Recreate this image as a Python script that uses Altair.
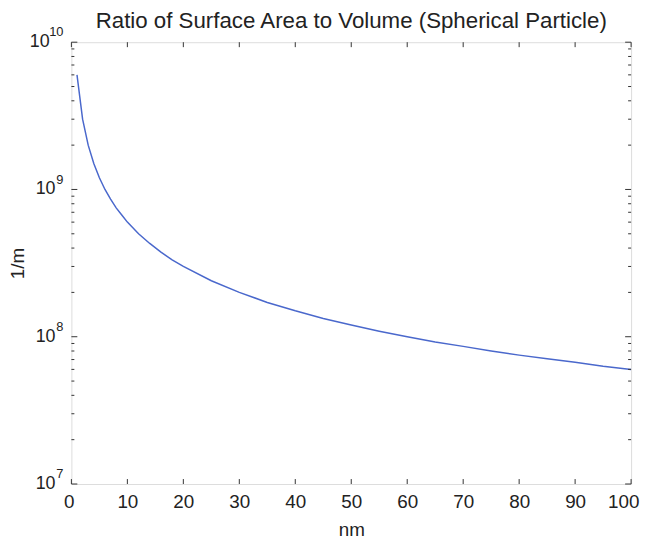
import altair as alt
import pandas as pd

# diameter in nm and ratio (1/m)
diam_nm = [1, 2, 3, 4, 5, 6, 7, 8, 9, 10, 12, 14, 16, 18, 20, 25, 30, 35, 40, 45,
           50, 55, 60, 65, 70, 75, 80, 85, 90, 95, 100]
ratio = [6.0e9, 3.0e9, 2.0e9, 1.5e9, 1.2e9, 1.0e9, 8.6e8, 7.5e8, 6.7e8, 6.0e8,
         5.0e8, 4.3e8, 3.75e8, 3.33e8, 3.0e8, 2.4e8, 2.0e8, 1.71e8, 1.5e8, 1.33e8,
         1.2e8, 1.09e8, 1.0e8, 9.2e7, 8.6e7, 8.0e7, 7.5e7, 7.1e7, 6.7e7, 6.3e7, 6.0e7]

x_ticks = [0, 10, 20, 30, 40, 50, 60, 70, 80, 90, 100]
y_major = [1e7, 1e8, 1e9, 1e10]
y_exp = ["7", "8", "9", "10"]
y_minor = [m * 10 ** e for e in (7, 8, 9) for m in (2, 3, 4, 5, 6, 7, 8, 9)]

W, H = 565, 446
FONT = "Liberation Sans"
AX = "#333333"

df = pd.DataFrame({"d": diam_nm, "r": ratio})
xt = pd.DataFrame({"d": x_ticks})
ymaj = pd.DataFrame({"r": y_major, "e": y_exp})
ymin = pd.DataFrame({"r": y_minor})

xs = alt.Scale(domain=[0, 100], nice=False, zero=False)
ys = alt.Scale(type="log", domain=[1e7, 1e10], nice=False)

xaxis = alt.Axis(
    values=x_ticks, ticks=False, domain=False, grid=False, labelFontSize=19,
    labelFont=FONT, labelColor="#222", labelPadding=9, labelFlush=True,
    labelFlushOffset=8,
    title="nm", titleFont=FONT, titleFontSize=19, titleFontWeight="normal",
    titleColor="#222", titlePadding=9)
yaxis = alt.Axis(
    labels=False, ticks=False, domain=False, grid=False,
    title="1/m", titleFont=FONT, titleFontSize=19, titleFontWeight="normal",
    titleColor="#222", titlePadding=44)

X = alt.X("d:Q", scale=xs, axis=xaxis, title="nm")
Y = alt.Y("r:Q", scale=ys, axis=yaxis, title="1/m")

line = alt.Chart(df).mark_line(color="#4a68cc", strokeWidth=1.5, clip=True).encode(
    x=X, y=Y)

xtick_b = alt.Chart(xt).mark_rule(color=AX, strokeWidth=1).encode(
    x=X, y=alt.value(H), y2=alt.value(H - 5))
xtick_t = alt.Chart(xt).mark_rule(color=AX, strokeWidth=1).encode(
    x=X, y=alt.value(0), y2=alt.value(5))

ymaj_l = alt.Chart(ymaj).mark_rule(color=AX, strokeWidth=1).encode(
    y=Y, x=alt.value(0), x2=alt.value(6))
ymaj_r = alt.Chart(ymaj).mark_rule(color=AX, strokeWidth=1).encode(
    y=Y, x=alt.value(W), x2=alt.value(W - 6))
ymin_l = alt.Chart(ymin).mark_rule(color=AX, strokeWidth=1).encode(
    y=Y, x=alt.value(0), x2=alt.value(3))
ymin_r = alt.Chart(ymin).mark_rule(color=AX, strokeWidth=1).encode(
    y=Y, x=alt.value(W), x2=alt.value(W - 3))

exp_lab = alt.Chart(ymaj).mark_text(
    font=FONT, fontSize=13, color="#222", align="right", baseline="middle", dy=-10
).encode(y=Y, x=alt.value(-8), text="e:N")

base1 = alt.Chart(ymaj).transform_filter("length(datum.e) == 1").transform_calculate(
    b="'10'").mark_text(
    font=FONT, fontSize=18, color="#222", align="right", baseline="middle"
).encode(y=Y, x=alt.value(-16), text="b:N")
base2 = alt.Chart(ymaj).transform_filter("length(datum.e) == 2").transform_calculate(
    b="'10'").mark_text(
    font=FONT, fontSize=18, color="#222", align="right", baseline="middle"
).encode(y=Y, x=alt.value(-22), text="b:N")

chart = alt.layer(
    line, xtick_b, xtick_t, ymaj_l, ymaj_r, ymin_l, ymin_r, exp_lab, base1, base2
).properties(
    width=W, height=H,
    title=alt.Title("Ratio of Surface Area to Volume (Spherical Particle)",
                    font=FONT, fontSize=22.5, fontWeight="normal", color="#222",
                    anchor="middle", frame="group", offset=-6),
    autosize=alt.AutoSizeParams(type="none"),
    padding={"left": 64, "top": 32, "right": 10, "bottom": 53},
).configure_view(stroke="#3a3a3a", strokeWidth=1.5).configure(background="white")

chart.save("out.html", embed_options={"renderer": "svg", "actions": False})
